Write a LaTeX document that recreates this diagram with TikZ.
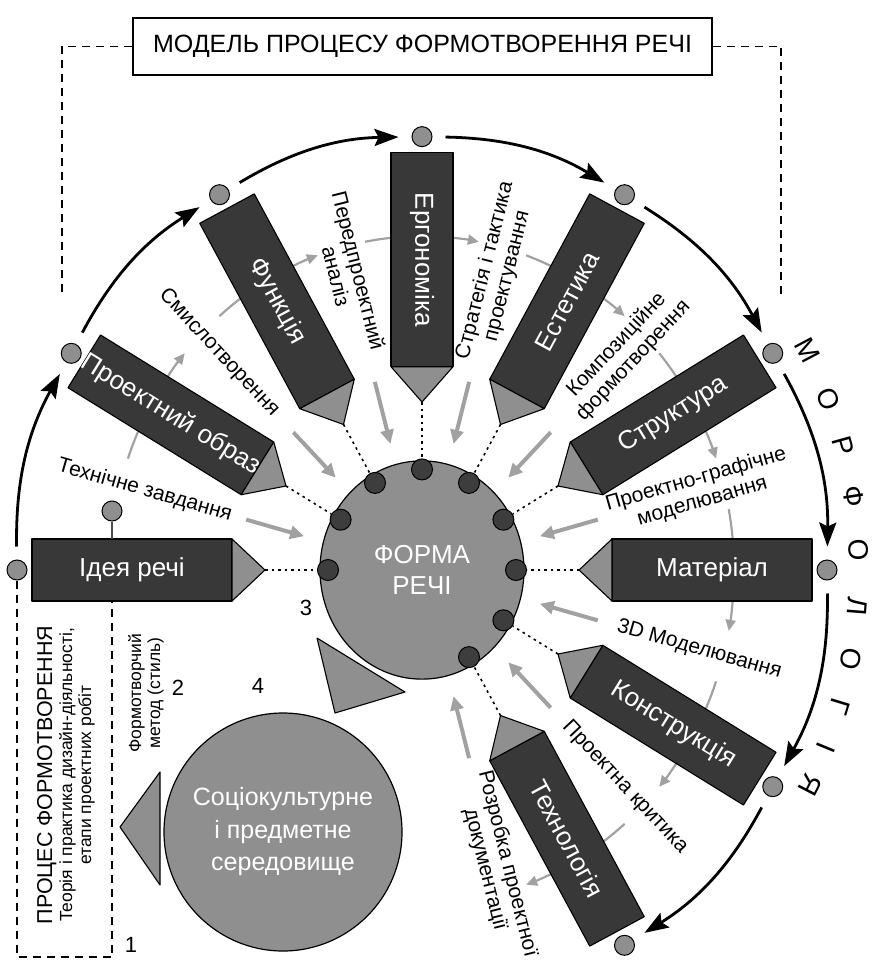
\documentclass[tikz,border=0pt]{standalone}
\usepackage{fontspec}
\setmainfont{Liberation Sans}
\usetikzlibrary{arrows.meta,calc,positioning}

\definecolor{pencildark}{gray}{0.22}
\definecolor{tipgray}{gray}{0.56}
\definecolor{dotdark}{gray}{0.24}
\definecolor{flowgray}{gray}{0.63}

\tikzset{
  pbody/.style={fill=pencildark, draw=black, line width=1.1pt, line join=round},
  ptip/.style={fill=tipgray, draw=black, line width=1.1pt, line join=round},
  plabel/.style={text=white, font=\fontsize{26}{30}\selectfont, inner sep=0pt},
  enddot/.style={circle, fill=tipgray, draw=black, line width=1pt, minimum size=20pt, inner sep=0pt},
  rimdot/.style={circle, fill=dotdark, draw=black, line width=1pt, minimum size=21pt, inner sep=0pt},
  dotline/.style={line width=1.6pt, dash pattern=on 2.5pt off 4pt},
  morph/.style={line width=2.8pt, -{Stealth[length=24pt,width=17pt,inset=4pt]}, shorten <=13pt, shorten >=13pt},
  flowline/.style={flowgray, line width=2.2pt},
  flowarrow/.style={flowline, -{Triangle[length=11pt,width=10pt]}},
  inflow/.style={flowgray, line width=4pt, -{Triangle[length=14pt,width=13pt]}},
  flowlabel/.style={font=\fontsize{21}{23}\selectfont, align=center, inner sep=0pt},
  dashline/.style={line width=1.4pt, dash pattern=on 8pt off 6pt},
  numlabel/.style={font=\fontsize{22}{24}\selectfont, inner sep=0pt}
}

\begin{document}
\begin{tikzpicture}[x=1pt, y=-1pt]
\useasboundingbox (0,0) rectangle (876,969);

% Title and the dashed frame of the model
\node[draw, line width=1.4pt, minimum width=579pt, minimum height=57pt, font=\fontsize{25}{28}\selectfont] (title) at (422.5,46.5) {МОДЕЛЬ ПРОЦЕСУ ФОРМОТВОРЕННЯ РЕЧІ};
\draw[dashline] (title.west) -| (62,295);
\draw[dashline] (title.east) -| (781,295);

% Morphology wheel
\begin{scope}[shift={(422,570)}, y=1.07pt]
  % flow of the design stages
  \foreach \a in {150,120,...,-60}
    \draw[flowarrow] ({\a-3}:312) arc[start angle=\a-3, end angle=\a-10.5, radius=312];
  \foreach \a in {180,150,...,-30}
    \draw[flowline] ({\a-19.5}:312) arc[start angle=\a-19.5, end angle=\a-27, radius=312];

  % form of the thing
  \draw[fill=tipgray, line width=1.2pt] (0,0) circle[radius=102];
  \node[plabel, align=center, font=\fontsize{26}{31}\selectfont] (form) at (0,0) {ФОРМА\\РЕЧІ};

  % pencils
  \foreach \a/\n/\rot/\txt in {180/idea/0/{Ідея речі}, 150/image/-31.7/{Проектний образ},
      120/func/-61.65/Функція, 90/ergo/-90/Ергономіка, 60/aest/61.65/Естетика,
      30/struct/31.7/Структура, 0/mat/0/Матеріал, -30/constr/-31.7/Конструкція,
      -60/tech/-61.65/Технологія} {
    \coordinate (\n-tip) at (\a:157);
    \coordinate (\n-near) at (\a:190);
    \coordinate (\n-far) at (\a:390);
    \draw[pbody] ($(\n-near)!31pt!90:(\n-far)$) -- ($(\n-far)!31pt!-90:(\n-near)$)
      -- ($(\n-far)!31pt!90:(\n-near)$) -- ($(\n-near)!31pt!-90:(\n-far)$) -- cycle;
    \draw[ptip] ($(\n-near)!31pt!90:(\n-far)$) -- (\n-tip) -- ($(\n-near)!31pt!-90:(\n-far)$) -- cycle;
    \node[plabel, rotate=\rot] (\n) at ($(\n-near)!0.5!(\n-far)$) {\txt};
    \node[rimdot] (\n-in) at (\a:94) {};
    \node[enddot] (\n-out) at (\a:405) {};
    \draw[dotline] (\n-tip) -- (\n-in);
  }

  % morphology cycle
  \foreach \p/\q in {idea/image, image/func, func/ergo, ergo/aest, aest/struct,
      struct/mat, mat/constr, constr/tech}
    \draw[morph] (\p-out) to[bend left=15] (\q-out);

  % stage labels and arrows into the form
  \foreach \a/\rot/\txt [count=\i] in {165/-16/{Технічне завдання}, 135/-46.9/Смислотворення,
      105/-75.9/{Передпроектний\\аналіз}, 75/75.9/{Стратегія і тактика\\проектування},
      45/46.9/{Композиційне\\формотворення}, 15/16/{Проектно-графічне\\моделювання},
      -15/-16/{3D Моделювання}, -45/-46.9/{Проектна критика},
      -75/-75.9/{Розробка проектної\\документації}} {
    \node[flowlabel, rotate=\rot] (stage\i) at (\a:287) {\txt};
    \draw[inflow] (\a:182) -- (\a:122);
  }

  % МОРФОЛОГІЯ
  \foreach \a/\l [count=\i] in {28/М, 21.5/О, 15.4/Р, 9/Ф, 2.5/О, -4.5/Л, -11/О, -17/Г, -22.4/І, -27.4/Я}
    \node[font=\fontsize{28}{30}\selectfont, rotate=\a-90] (letter\i) at (\a:437) {\l};
\end{scope}

% design process frame
\node[enddot] (tz-dot) at (112,511) {};
\draw[line width=1.2pt, black!70] (tz-dot) -- (112,539);
\draw[dashline] (idea-out) -- (17,957) -- (112,957) -- (112,601);
\node[rotate=90, align=center, font=\fontsize{17.5}{19}\selectfont] (process) at (66,775)
  {{\fontsize{21.5}{24}\selectfont ПРОЦЕС ФОРМОТВОРЕННЯ}\\[1pt]Теорія і практика дизайн-діяльності,\\етапи проектних робіт};
\node[rotate=90, align=center, font=\fontsize{17.5}{19}\selectfont] (method) at (146,693) {Формотворчий\\метод (стиль)};

% environment
\node[circle, fill=tipgray, draw=black, line width=1.2pt, minimum size=238pt, text=white,
  align=center, font=\fontsize{25}{32.5}\selectfont] (env) at (283,832) {Соціокультурне\\і предметне\\середовище};
\draw[ptip] (160,772) -- (120,827) -- (160,885) -- cycle;
\draw[ptip] (317,638) -- (405,692) -- (335,713) -- cycle;

\node[numlabel] (num1) at (131,945) {1};
\node[numlabel] (num2) at (178,688) {2};
\node[numlabel] (num3) at (306,608) {3};
\node[numlabel] (num4) at (258,686) {4};
\end{tikzpicture}
\end{document}
